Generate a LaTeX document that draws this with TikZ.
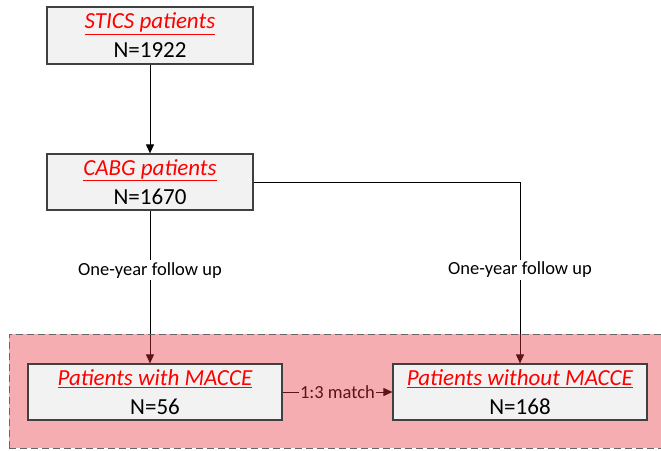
\documentclass[tikz,border=0pt]{standalone}
\usepackage{fontspec}
\setmainfont{Carlito}
\usetikzlibrary{arrows.meta}
\definecolor{boxfill}{HTML}{F2F2F2}
\definecolor{boxdraw}{HTML}{404040}
\definecolor{titlered}{HTML}{FF0000}
\definecolor{pinkov}{RGB}{230,50,60}
\pgfdeclarelayer{bg}
\pgfdeclarelayer{mid}
\pgfsetlayers{bg,mid,main}
\tikzset{
  flowbox/.style={draw=boxdraw, line width=1.2pt, fill=boxfill, align=center,
    inner sep=0pt, font=\fontsize{23}{29}\selectfont},
  conn/.style={draw=black, line width=1pt, -{Triangle[length=9pt,width=8pt]}},
  plainconn/.style={draw=black, line width=1pt},
  lbl/.style={fill=white, inner sep=2pt, font=\fontsize{18.5}{20}\selectfont}
}
\newcommand{\boxtitle}[1]{\textcolor{titlered}{\underline{\textit{#1}}}}
\begin{document}
\begin{tikzpicture}[x=1pt,y=-1pt]
\useasboundingbox (0,0) rectangle (661,450);
\node[flowbox, minimum width=206pt, minimum height=57pt] (stics) at (150,35.5)
  {\boxtitle{STICS patients}\\N=1922};
\node[flowbox, minimum width=206pt, minimum height=56pt] (cabg) at (150,182)
  {\boxtitle{CABG patients}\\N=1670};
\node[flowbox, minimum width=254pt, minimum height=56pt] (mac) at (155,392)
  {\boxtitle{Patients with MACCE}\\N=56};
\node[flowbox, minimum width=254pt, minimum height=56pt] (nomac) at (520,392)
  {\boxtitle{Patients without MACCE}\\N=168};
\begin{pgfonlayer}{bg}
  \draw[conn] (stics.south) -- (cabg.north);
  \draw[conn] (cabg.south) -- node[lbl, pos=0.39] (fu1) {One-year follow up} (mac.north -| cabg.south);
  \draw[plainconn] (cabg.east) -- (nomac.north |- cabg.east) coordinate (corner);
  \draw[conn] (corner) -- node[lbl, pos=0.485] (fu2) {One-year follow up} (nomac.north);
  \draw[conn] (mac.east) -- node[lbl, inner sep=1pt] (match) {1:3 match} (nomac.west);
\end{pgfonlayer}
\begin{pgfonlayer}{mid}
  \fill[fill=pinkov, fill opacity=0.4] (9,334) rectangle (670,448);
  \draw[draw=boxdraw!80, line width=1pt, dash pattern=on 7pt off 4pt] (9,448) -- (9,334) -- (670,334);
  \draw[draw=boxdraw!80, line width=1pt, dash pattern=on 7pt off 4pt] (9,448) -- (670,448);
\end{pgfonlayer}
\end{tikzpicture}
\end{document}
